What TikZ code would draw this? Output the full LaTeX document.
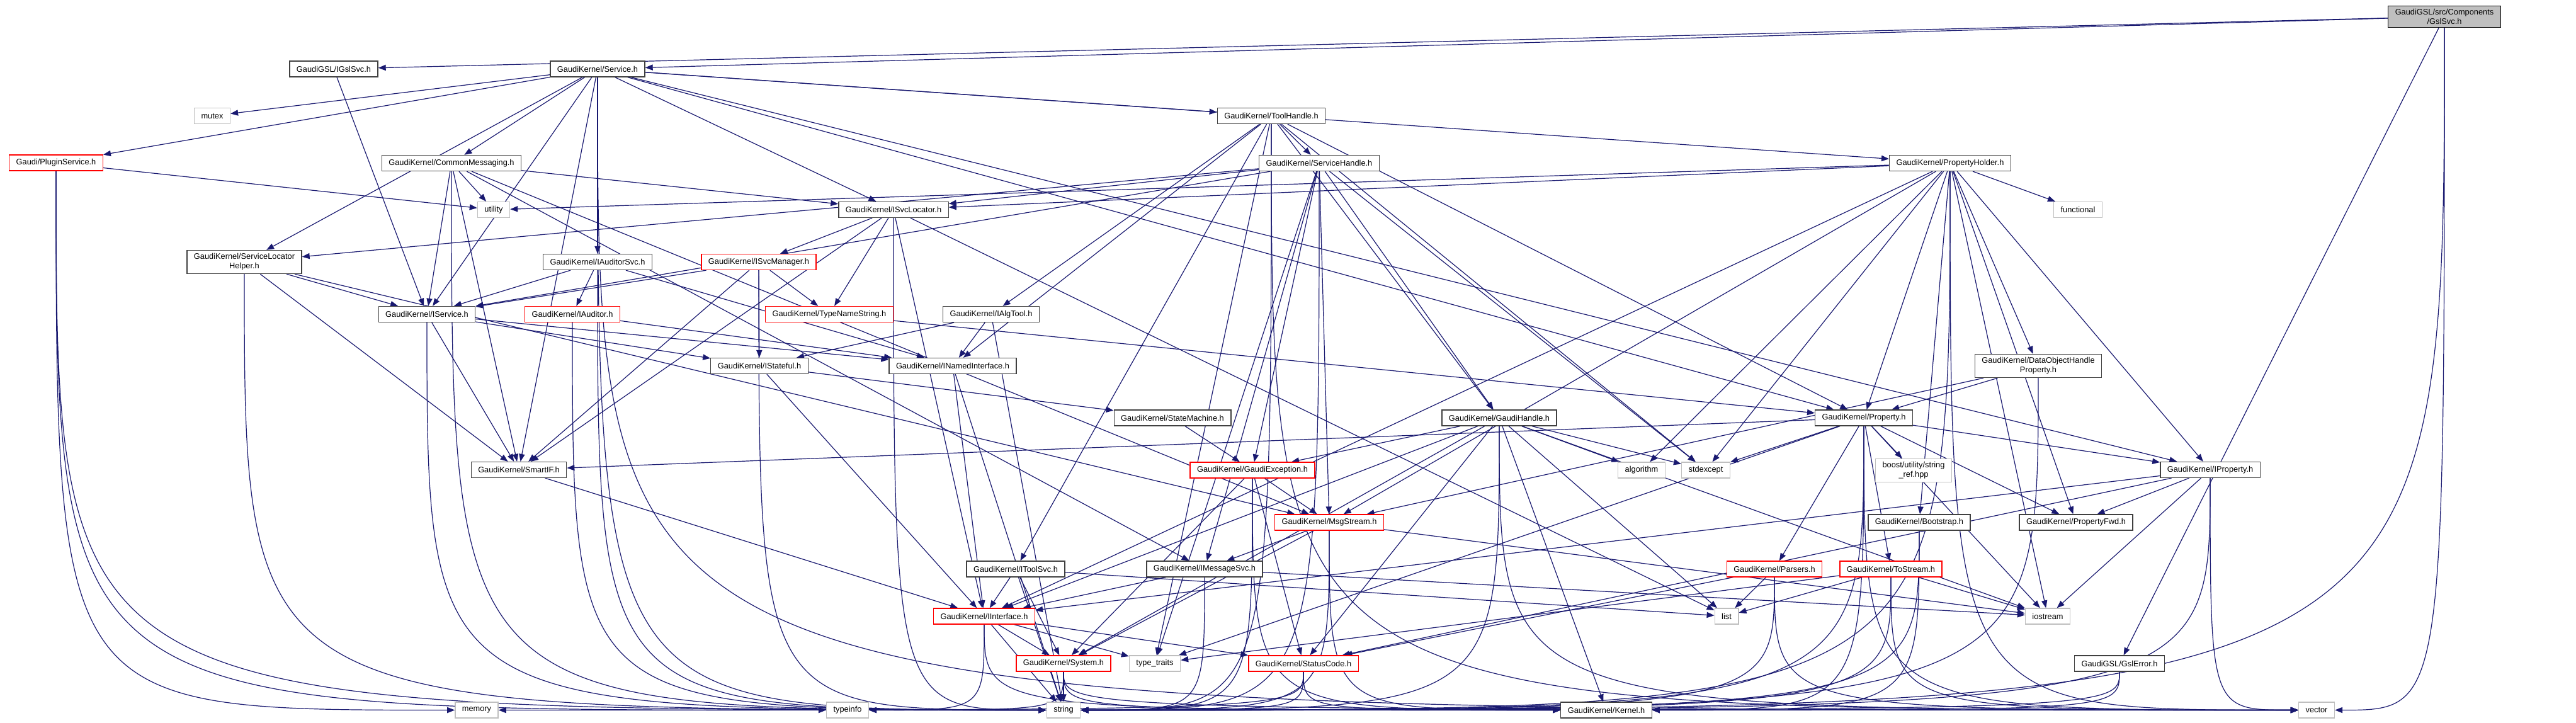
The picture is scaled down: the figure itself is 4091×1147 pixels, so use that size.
\documentclass[tikz,border=0pt]{standalone}
\usepackage{fontspec}
\setmainfont{Liberation Sans}
\usepackage{xcolor}
\usetikzlibrary{arrows.meta}
\definecolor{depblue}{HTML}{191970}
\definecolor{sysgray}{HTML}{BFBFBF}
\pgfdeclarelayer{bg}
\pgfsetlayers{bg,main}

\begin{document}
\begin{tikzpicture}[
  x=0.5pt, y=-0.5pt,
  font=\fontsize{6.4}{7.4}\selectfont,
  hdr/.style={draw=black!75,line width=0.65pt,fill=white,inner xsep=5.5pt,inner ysep=2.6pt,minimum height=12.5pt,align=center},
  redhdr/.style={hdr,draw=red},
  syshdr/.style={hdr,draw=sysgray},
  roothdr/.style={hdr,draw=black,fill=sysgray},
  dep/.style={depblue,line width=0.6pt,-{Triangle[length=6pt,width=4.6pt]}},
]
\useasboundingbox (0,0) rectangle (4091,1147);

% rank 0 - 2
\node[roothdr] (gslsvc) at (3882,26.5) {GaudiGSL/src/Components\\/GslSvc.h};
\node[hdr] (igslsvc) at (530,109.5) {GaudiGSL/IGslSvc.h};
\node[hdr] (service) at (949,109.5) {GaudiKernel/Service.h};
\node[syshdr] (mutex) at (337,184) {mutex};
\node[hdr] (toolhandle) at (2019,184) {GaudiKernel/ToolHandle.h};
% rank 3 - 4
\node[redhdr] (plugin) at (89,258.5) {Gaudi/PluginService.h};
\node[hdr] (commsg) at (717,259) {GaudiKernel/CommonMessaging.h};
\node[hdr] (servicehandle) at (2095,259) {GaudiKernel/ServiceHandle.h};
\node[hdr] (propholder) at (3097,259) {GaudiKernel/PropertyHolder.h};
\node[syshdr] (utility) at (784,333) {utility};
\node[hdr] (isvcloc) at (1419,333) {GaudiKernel/ISvcLocator.h};
\node[syshdr] (functional) at (3300,333) {functional};
% rank 5 - 6
\node[hdr] (slh) at (388,416) {GaudiKernel/ServiceLocator\\Helper.h};
\node[hdr] (iauditorsvc) at (949,416) {GaudiKernel/IAuditorSvc.h};
\node[redhdr] (isvcmgr) at (1205,416) {GaudiKernel/ISvcManager.h};
\node[hdr] (iservice) at (678,499) {GaudiKernel/IService.h};
\node[redhdr] (iauditor) at (909,499) {GaudiKernel/IAuditor.h};
\node[redhdr] (typename) at (1317,499) {GaudiKernel/TypeNameString.h};
\node[hdr] (ialgtool) at (1574,499) {GaudiKernel/IAlgTool.h};
% rank 7 - 8
\node[hdr] (istateful) at (1206,581) {GaudiKernel/IStateful.h};
\node[hdr] (inamed) at (1513,581) {GaudiKernel/INamedInterface.h};
\node[hdr] (dohp) at (3237,581) {GaudiKernel/DataObjectHandle\\Property.h};
\node[hdr] (statemachine) at (1862,663.5) {GaudiKernel/StateMachine.h};
\node[hdr] (gaudihandle) at (2381,663.5) {GaudiKernel/GaudiHandle.h};
\node[hdr] (property) at (2960,663.5) {GaudiKernel/Property.h};
% rank 9 - 10
\node[hdr] (smartif) at (824,746) {GaudiKernel/SmartIF.h};
\node[redhdr] (gaudiexc) at (1989,746.5) {GaudiKernel/GaudiException.h};
\node[syshdr] (algorithm) at (2607,746.5) {algorithm};
\node[syshdr] (stdexcept) at (2709,746.5) {stdexcept};
\node[syshdr] (boost) at (3039,747) {boost/utility/string\\\_ref.hpp};
\node[hdr] (iproperty) at (3510,746) {GaudiKernel/IProperty.h};
\node[redhdr] (msgstream) at (2111,829.5) {GaudiKernel/MsgStream.h};
\node[hdr] (bootstrap) at (3048,829.5) {GaudiKernel/Bootstrap.h};
\node[hdr] (propertyfwd) at (3297,829.5) {GaudiKernel/PropertyFwd.h};
% rank 11 - 12
\node[hdr] (itoolsvc) at (1613,903.5) {GaudiKernel/IToolSvc.h};
\node[hdr] (imessagesvc) at (1913,903.5) {GaudiKernel/IMessageSvc.h};
\node[redhdr] (parsers) at (2818,903.5) {GaudiKernel/Parsers.h};
\node[redhdr] (tostream) at (3003,903.5) {GaudiKernel/ToStream.h};
\node[redhdr] (iinterface) at (1563,978.5) {GaudiKernel/IInterface.h};
\node[syshdr] (list) at (2742,978.5) {list};
\node[syshdr] (iostream) at (3252,978.5) {iostream};
% rank 13 - 14
\node[redhdr] (system) at (1689,1053.5) {GaudiKernel/System.h};
\node[syshdr] (typetraits) at (1834,1053.5) {type\_traits};
\node[redhdr] (statuscode) at (2070,1053.5) {GaudiKernel/StatusCode.h};
\node[hdr] (gslerror) at (3366,1053.5) {GaudiGSL/GslError.h};
\node[syshdr] (memory) at (757,1127.5) {memory};
\node[syshdr] (typeinfo) at (1346,1127.5) {typeinfo};
\node[syshdr] (string) at (1689,1127.5) {string};
\node[hdr] (kernel) at (2551,1127.5) {GaudiKernel/Kernel.h};
\node[syshdr] (vector) at (3679,1127.5) {vector};

\begin{pgfonlayer}{bg}
% straight includes
\foreach \t in {igslsvc,service,gslerror} \draw[dep] (gslsvc) -- (\t);
\draw[dep] (igslsvc) -- (iservice);
\foreach \t in {mutex,plugin,slh,commsg,iservice,iauditorsvc,isvcloc,toolhandle,propholder,property,iproperty,smartif} \draw[dep] (service) -- (\t);
\draw[dep] (plugin) -- (utility);
\foreach \t in {utility,isvcloc,iservice,smartif,msgstream,imessagesvc} \draw[dep] (commsg) -- (\t);
\foreach \t in {iservice,smartif,msgstream} \draw[dep] (slh) -- (\t);
\foreach \t in {iservice,iauditor,inamed} \draw[dep] (iauditorsvc) -- (\t);
\foreach \t in {iservice,typename,smartif,istateful} \draw[dep] (isvcmgr) -- (\t);
\draw[dep] (iauditor) -- (inamed);
\draw[dep] (typename) -- (property);
\foreach \t in {isvcmgr,typename,smartif,iinterface,list} \draw[dep] (isvcloc) -- (\t);
\foreach \t in {istateful,inamed,smartif} \draw[dep] (iservice) -- (\t);
\foreach \t in {statemachine,iinterface} \draw[dep] (istateful) -- (\t);
\foreach \t in {iinterface,string} \draw[dep] (inamed) -- (\t);
\foreach \t in {inamed,istateful,string} \draw[dep] (ialgtool) -- (\t);
\draw[dep] (statemachine) -- (gaudiexc);
\foreach \t in {servicehandle,ialgtool,inamed,itoolsvc,gaudihandle,typetraits,stdexcept,property} \draw[dep] (toolhandle) -- (\t);
\foreach \t in {isvcloc,slh,gaudihandle,imessagesvc,msgstream,gaudiexc,iservice,stdexcept,typetraits} \draw[dep] (servicehandle) -- (\t);
\foreach \t in {utility,isvcloc,functional,dohp,property,iproperty,propertyfwd,msgstream,algorithm,stdexcept,bootstrap,iinterface,iostream} \draw[dep] (propholder) -- (\t);
\foreach \t in {property,msgstream} \draw[dep] (dohp) -- (\t);
\foreach \t in {smartif,stdexcept,boost,parsers,tostream,propertyfwd,iproperty,iostream,typetraits} \draw[dep] (property) -- (\t);
\foreach \t in {gaudiexc,algorithm,stdexcept,iinterface,system,statuscode,list,iostream,kernel} \draw[dep] (gaudihandle) -- (\t);
\foreach \t in {msgstream,statuscode,system} \draw[dep] (gaudiexc) -- (\t);
\foreach \t in {imessagesvc,system,iostream} \draw[dep] (msgstream) -- (\t);
\foreach \t in {propertyfwd,iinterface,statuscode,iostream} \draw[dep] (iproperty) -- (\t);
\draw[dep] (smartif) -- (iinterface);
\foreach \t in {iinterface,system,list,string} \draw[dep] (itoolsvc) -- (\t);
\foreach \t in {iinterface,iostream} \draw[dep] (imessagesvc) -- (\t);
\foreach \t in {list,statuscode} \draw[dep] (parsers) -- (\t);
\foreach \t in {list,typetraits,iostream} \draw[dep] (tostream) -- (\t);
\foreach \t in {string,system,typetraits,statuscode} \draw[dep] (iinterface) -- (\t);
\draw[dep] (system) -- (string);
% bent includes reaching the bottom rank from the left
\foreach \s/\t in {service/vector,service/string,plugin/memory,plugin/typeinfo,plugin/string,commsg/string,slh/string,iauditorsvc/string,isvcmgr/string,iauditor/string,isvcloc/string,iservice/string,toolhandle/vector,propholder/vector,property/vector,gaudihandle/vector,gaudiexc/kernel,msgstream/kernel,iproperty/vector,parsers/vector,tostream/vector,iinterface/kernel,system/kernel,system/vector,statuscode/kernel}
  \draw[dep] (\s.south) .. controls (\s.south |- \t.west) .. (\t.west);
% bent includes reaching the bottom rank from the right
\foreach \s/\t in {gslsvc/vector,gslsvc/string,toolhandle/string,servicehandle/string,propholder/string,dohp/string,property/string,property/kernel,gaudihandle/string,gaudiexc/string,msgstream/string,iproperty/string,bootstrap/kernel,bootstrap/string,imessagesvc/string,parsers/string,tostream/string,iinterface/typeinfo,system/typeinfo,statuscode/memory,statuscode/string,gslerror/string,gslerror/kernel}
  \draw[dep] (\s.south) .. controls (\s.south |- \t.east) .. (\t.east);
\end{pgfonlayer}
\end{tikzpicture}
\end{document}
